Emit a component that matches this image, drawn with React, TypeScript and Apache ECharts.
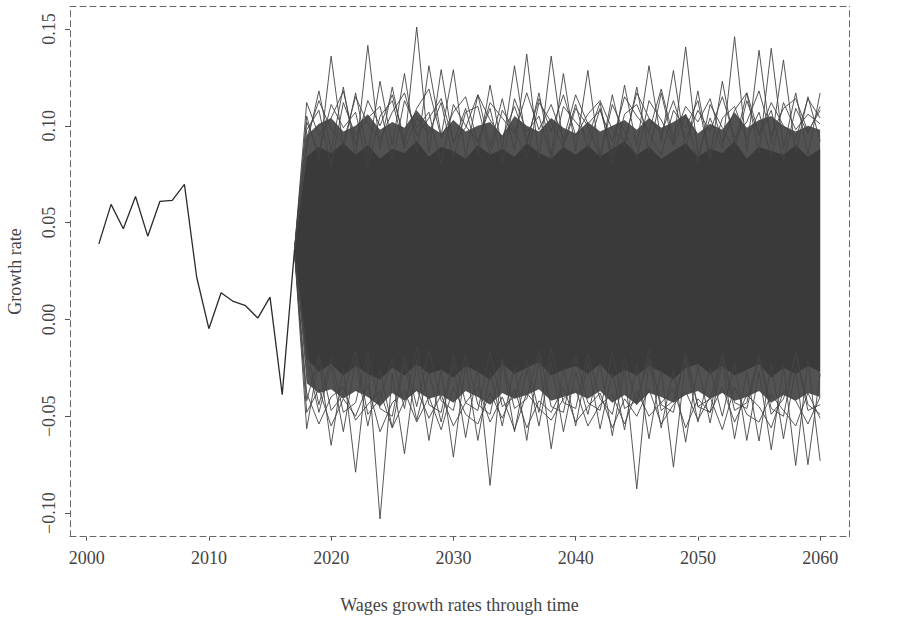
import React, { useEffect, useRef } from "react";
import * as echarts from "echarts";

// Observed wage growth rates
const histYears = [2001, 2002, 2003, 2004, 2005, 2006, 2007, 2008, 2009, 2010, 2011, 2012, 2013, 2014, 2015, 2016, 2017];
const histValues = [0.039, 0.0594, 0.0468, 0.0635, 0.043, 0.061, 0.0615, 0.0697, 0.0219, -0.0048, 0.0138, 0.0093, 0.0071, 0.0007, 0.0115, -0.0389, 0.0356];

// Simulated years
const simYears = [2018, 2019, 2020, 2021, 2022, 2023, 2024, 2025, 2026, 2027, 2028, 2029, 2030, 2031, 2032, 2033, 2034, 2035, 2036, 2037, 2038, 2039, 2040, 2041, 2042, 2043, 2044, 2045, 2046, 2047, 2048, 2049, 2050, 2051, 2052, 2053, 2054, 2055, 2056, 2057, 2058, 2059, 2060];

// Dense core of simulated paths (upper / lower edges, estimated)
const coreHi = [0.084, 0.089, 0.086, 0.091, 0.085, 0.09, 0.083, 0.088, 0.086, 0.092, 0.084, 0.089, 0.087, 0.083, 0.09, 0.085, 0.088, 0.084, 0.091, 0.086, 0.083, 0.089, 0.085, 0.09, 0.084, 0.088, 0.092, 0.085, 0.089, 0.083, 0.087, 0.091, 0.084, 0.088, 0.086, 0.092, 0.083, 0.089, 0.087, 0.085, 0.09, 0.084, 0.088];
const coreLo = [-0.02, -0.027, -0.023, -0.029, -0.024, -0.028, -0.031, -0.025, -0.029, -0.023, -0.028, -0.026, -0.03, -0.024, -0.027, -0.031, -0.023, -0.028, -0.025, -0.022, -0.029, -0.026, -0.024, -0.028, -0.023, -0.03, -0.026, -0.029, -0.024, -0.027, -0.031, -0.025, -0.023, -0.028, -0.024, -0.029, -0.026, -0.023, -0.03, -0.025, -0.028, -0.024, -0.027];
const midHi = [0.095, 0.101, 0.104, 0.097, 0.1, 0.106, 0.098, 0.102, 0.099, 0.108, 0.1, 0.096, 0.103, 0.097, 0.1, 0.102, 0.095, 0.105, 0.1, 0.097, 0.104, 0.099, 0.096, 0.102, 0.097, 0.1, 0.103, 0.098, 0.104, 0.099, 0.102, 0.106, 0.096, 0.101, 0.098, 0.107, 0.099, 0.103, 0.105, 0.1, 0.097, 0.1, 0.098];
const midLo = [-0.033, -0.038, -0.036, -0.041, -0.037, -0.04, -0.045, -0.038, -0.042, -0.037, -0.041, -0.039, -0.043, -0.037, -0.04, -0.044, -0.038, -0.041, -0.039, -0.036, -0.042, -0.04, -0.038, -0.041, -0.037, -0.043, -0.039, -0.044, -0.038, -0.04, -0.043, -0.039, -0.037, -0.041, -0.038, -0.042, -0.04, -0.037, -0.043, -0.039, -0.042, -0.038, -0.04];

// Outlying simulated paths (peaks and troughs)
const up1 = [0.105, 0.082, 0.136, 0.088, 0.117, 0.085, 0.123, 0.09, 0.127, 0.086, 0.131, 0.095, 0.129, 0.084, 0.116, 0.089, 0.114, 0.087, 0.137, 0.083, 0.136, 0.09, 0.111, 0.088, 0.109, 0.085, 0.121, 0.089, 0.131, 0.092, 0.1286, 0.087, 0.118, 0.084, 0.123, 0.09, 0.117, 0.086, 0.14, 0.088, 0.117, 0.085, 0.117];
const up2 = [0.09, 0.118, 0.087, 0.12, 0.084, 0.1415, 0.088, 0.12, 0.09, 0.151, 0.086, 0.129, 0.091, 0.109, 0.085, 0.121, 0.088, 0.131, 0.09, 0.117, 0.085, 0.127, 0.087, 0.1286, 0.083, 0.116, 0.089, 0.12, 0.086, 0.117, 0.09, 0.1407, 0.085, 0.104, 0.088, 0.146, 0.087, 0.139, 0.091, 0.134, 0.086, 0.115, 0.092];
const up3 = [0.098, 0.108, 0.079, 0.112, 0.095, 0.104, 0.11, 0.082, 0.113, 0.099, 0.107, 0.08, 0.111, 0.1, 0.092, 0.109, 0.081, 0.114, 0.097, 0.105, 0.083, 0.11, 0.102, 0.094, 0.112, 0.08, 0.106, 0.111, 0.096, 0.085, 0.108, 0.099, 0.113, 0.082, 0.104, 0.11, 0.093, 0.107, 0.084, 0.112, 0.098, 0.106, 0.101];
const up4 = [0.102, 0.086, 0.111, 0.099, 0.107, 0.079, 0.105, 0.113, 0.088, 0.104, 0.096, 0.112, 0.083, 0.107, 0.11, 0.085, 0.108, 0.098, 0.083, 0.112, 0.102, 0.089, 0.109, 0.1, 0.084, 0.111, 0.097, 0.083, 0.113, 0.103, 0.09, 0.106, 0.081, 0.111, 0.099, 0.087, 0.113, 0.095, 0.108, 0.082, 0.109, 0.096, 0.11];
const up5 = [0.112, 0.095, 0.104, 0.118, 0.09, 0.113, 0.1, 0.116, 0.093, 0.109, 0.119, 0.094, 0.107, 0.115, 0.091, 0.112, 0.104, 0.096, 0.117, 0.098, 0.111, 0.093, 0.116, 0.101, 0.108, 0.092, 0.115, 0.105, 0.097, 0.119, 0.094, 0.11, 0.102, 0.114, 0.091, 0.108, 0.117, 0.096, 0.112, 0.1, 0.093, 0.114, 0.104];
const up6 = [0.094, 0.113, 0.098, 0.091, 0.115, 0.101, 0.093, 0.107, 0.117, 0.095, 0.104, 0.114, 0.092, 0.099, 0.116, 0.103, 0.094, 0.11, 0.092, 0.114, 0.097, 0.116, 0.095, 0.106, 0.113, 0.098, 0.092, 0.117, 0.104, 0.096, 0.113, 0.093, 0.108, 0.097, 0.115, 0.094, 0.102, 0.118, 0.095, 0.109, 0.114, 0.097, 0.108];
const low1 = [-0.0565, -0.02, -0.065, -0.025, -0.0789, -0.022, -0.103, -0.028, -0.0694, -0.021, -0.0625, -0.026, -0.0711, -0.023, -0.0625, -0.027, -0.055, -0.024, -0.0625, -0.02, -0.0668, -0.025, -0.055, -0.022, -0.0565, -0.027, -0.057, -0.023, -0.0616, -0.026, -0.0763, -0.021, -0.053, -0.025, -0.05, -0.022, -0.0625, -0.027, -0.0673, -0.024, -0.0754, -0.021, -0.073];
const low2 = [-0.02, -0.048, -0.024, -0.058, -0.021, -0.055, -0.026, -0.056, -0.022, -0.052, -0.027, -0.053, -0.023, -0.061, -0.025, -0.0857, -0.021, -0.058, -0.026, -0.055, -0.022, -0.058, -0.027, -0.049, -0.023, -0.06, -0.025, -0.0875, -0.021, -0.056, -0.026, -0.0634, -0.024, -0.0535, -0.022, -0.0616, -0.027, -0.0628, -0.023, -0.0616, -0.025, -0.075, -0.028];
const low3 = [-0.042, -0.018, -0.047, -0.039, -0.016, -0.049, -0.041, -0.02, -0.046, -0.014, -0.044, -0.048, -0.019, -0.043, -0.047, -0.017, -0.045, -0.04, -0.021, -0.048, -0.015, -0.043, -0.046, -0.018, -0.041, -0.049, -0.02, -0.044, -0.016, -0.047, -0.042, -0.019, -0.045, -0.048, -0.017, -0.043, -0.046, -0.02, -0.049, -0.041, -0.018, -0.047, -0.044];
const low4 = [-0.015, -0.044, -0.02, -0.048, -0.043, -0.017, -0.046, -0.05, -0.019, -0.045, -0.016, -0.042, -0.047, -0.018, -0.044, -0.049, -0.02, -0.046, -0.041, -0.016, -0.045, -0.048, -0.019, -0.043, -0.047, -0.017, -0.046, -0.042, -0.02, -0.044, -0.048, -0.016, -0.045, -0.041, -0.019, -0.047, -0.043, -0.018, -0.046, -0.05, -0.017, -0.044, -0.049];
const low5 = [-0.048, -0.036, -0.055, -0.041, -0.05, -0.034, -0.058, -0.043, -0.037, -0.053, -0.04, -0.057, -0.035, -0.049, -0.054, -0.038, -0.051, -0.036, -0.056, -0.042, -0.048, -0.035, -0.053, -0.045, -0.038, -0.056, -0.041, -0.05, -0.036, -0.054, -0.044, -0.037, -0.052, -0.04, -0.057, -0.035, -0.049, -0.053, -0.039, -0.047, -0.055, -0.038, -0.051];
const low6 = [-0.038, -0.054, -0.04, -0.035, -0.052, -0.044, -0.037, -0.056, -0.042, -0.036, -0.051, -0.039, -0.055, -0.043, -0.035, -0.053, -0.04, -0.057, -0.038, -0.046, -0.052, -0.041, -0.036, -0.055, -0.044, -0.039, -0.054, -0.037, -0.05, -0.043, -0.036, -0.056, -0.041, -0.048, -0.035, -0.053, -0.039, -0.045, -0.056, -0.037, -0.042, -0.054, -0.04];

const xTicks = [2000, 2010, 2020, 2030, 2040, 2050, 2060];
const yTicks = [-0.1, -0.05, 0, 0.05, 0.1, 0.15];

const FONT = "'Liberation Serif', 'DejaVu Serif', serif";
const INK = "#3a3a3a";

export default function App() {
  const ref = useRef<HTMLDivElement>(null);

  useEffect(() => {
    if (!ref.current) return;
    const chart = echarts.init(ref.current, undefined, { renderer: "svg" });
    const startYear = histYears[histYears.length - 1];
    const startVal = histValues[histValues.length - 1];

    const band = (hi: number[], lo: number[], opacity: number) => ({
      type: "custom",
      silent: true,
      clip: true,
      data: [[startYear, startVal]],
      renderItem: (_p: any, api: any) => {
        const pts: number[][] = [api.coord([startYear, startVal])];
        for (let i = 0; i < simYears.length; i++) pts.push(api.coord([simYears[i], hi[i]]));
        for (let i = simYears.length - 1; i >= 0; i--) pts.push(api.coord([simYears[i], lo[i]]));
        return { type: "polygon", shape: { points: pts }, style: { fill: INK, opacity, stroke: "none" } };
      },
      z: 1,
    });

    const strand = (vals: number[]) => ({
      type: "line",
      silent: true,
      symbol: "none",
      data: [[startYear, startVal], ...simYears.map((y, i) => [y, vals[i]])],
      lineStyle: { color: "#444", width: 0.9 },
      z: 2,
    });

    const fmt = (v: number) => (v < 0 ? "\u2212" + Math.abs(v).toFixed(2) : v.toFixed(2));
    const frame = { show: true, onZero: false, lineStyle: { color: "#666", width: 1, type: [6, 4] } };

    chart.setOption({
      animation: false,
      backgroundColor: "#ffffff",
      grid: { left: 70, right: 51, top: 6.5, bottom: 83.3, containLabel: false },
      xAxis: [
        {
          type: "value",
          min: 1998.64,
          max: 2062.36,
          position: "bottom",
          axisLine: frame,
          axisTick: { show: true, customValues: xTicks, length: 4, lineStyle: { color: "#555" } },
          axisLabel: { customValues: xTicks, fontFamily: FONT, fontSize: 18, color: "#444", margin: 12, formatter: (v: number) => String(v) },
          splitLine: { show: false },
        },
        {
          type: "value",
          min: 1998.64,
          max: 2062.36,
          position: "top",
          axisLine: frame,
          axisTick: { show: false },
          axisLabel: { show: false },
          splitLine: { show: false },
        },
      ],
      yAxis: [
        {
          type: "value",
          min: -0.1122,
          max: 0.1616,
          position: "left",
          axisLine: frame,
          axisTick: { show: true, customValues: yTicks, length: 5, lineStyle: { color: "#555" } },
          axisLabel: { customValues: yTicks, rotate: 90, fontFamily: FONT, fontSize: 18, color: "#444", margin: 12, formatter: fmt },
          splitLine: { show: false },
        },
        {
          type: "value",
          min: -0.1122,
          max: 0.1616,
          position: "right",
          axisLine: frame,
          axisTick: { show: false },
          axisLabel: { show: false },
          splitLine: { show: false },
        },
      ],
      graphic: [
        {
          type: "text",
          x: 459.5,
          y: 605,
          style: { text: "Wages growth rates through time", fontFamily: FONT, fontSize: 18, fill: "#444", textAlign: "center", textVerticalAlign: "middle" },
        },
        {
          type: "text",
          x: 15,
          y: 271.6,
          rotation: Math.PI / 2,
          style: { text: "Growth rate", fontFamily: FONT, fontSize: 18, fill: "#444", textAlign: "center", textVerticalAlign: "middle" },
        },
      ],
      series: [
        band(midHi, midLo, 0.88),
        band(coreHi, coreLo, 1),
        strand(up5),
        strand(up6),
        strand(low5),
        strand(low6),
        strand(up3),
        strand(up4),
        strand(low3),
        strand(low4),
        strand(up1),
        strand(up2),
        strand(low1),
        strand(low2),
        {
          type: "line",
          silent: true,
          symbol: "none",
          data: histYears.map((y, i) => [y, histValues[i]]),
          lineStyle: { color: "#2a2a2a", width: 1.3 },
          z: 3,
        },
      ],
    });
    return () => chart.dispose();
  }, []);

  return (
    <div
      ref={ref}
      style={{ position: "absolute", left: 0, top: 0, width: 900, height: 620, background: "#fff" }}
    />
  );
}
